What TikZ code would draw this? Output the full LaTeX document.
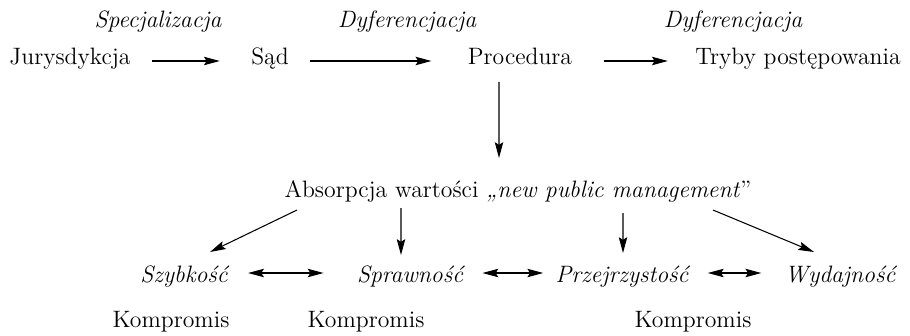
\documentclass[tikz,border=0pt]{standalone}
\usepackage{tikz}
\usetikzlibrary{arrows.meta}

\begin{document}
\begin{tikzpicture}
[
	              x = 0.02cm,
	              y = -0.02cm,
	           ->, >= {Stealth[length=9pt, width=4.8pt, inset=1.5pt]},
	     line width = 0.6pt,
	   term/.style = { inner sep=0pt, anchor=base, font=\fontsize{13.5}{16}\selectfont },
	  value/.style = { term, font=\fontsize{13.5}{16}\selectfont\itshape },
	  stage/.style = { value }
]
	\useasboundingbox (0,0) rectangle (910,335);

	% first row
	% nodes
	\node (jur) at (70,64)  [term]  {Jurysdykcja};
	\node (sad) at (270,64) [term]  {Sąd};
	\node (pro) at (520,64) [term]  {Procedura};
	\node (try) at (798,64) [term]  {Tryby postępowania};

	\node (spe) at (158,27) [stage] {Specjalizacja};
	\node (dy1) at (407,27) [stage] {Dyferencjacja};
	\node (dy2) at (733,27) [stage] {Dyferencjacja};

	% edges
	\draw [->, shorten <=0.42cm, shorten >=0.62cm] ([yshift=0.06cm]jur.base east) -- ([yshift=0.06cm]sad.base west);
	\draw [->, shorten <=0.42cm, shorten >=0.72cm] ([yshift=0.06cm]sad.base east) -- ([yshift=0.06cm]pro.base west);
	\draw [->, shorten <=0.62cm, shorten >=0.54cm] ([yshift=0.06cm]pro.base east) -- ([yshift=0.06cm]try.base west);

	% second row
	% nodes
	\node (abs) at (518,197) [term] {Absorpcja wartości \textit{„new public management}”};

	% edges
	\draw [->] ([xshift=-0.42cm, yshift=-0.36cm]pro.base) -- ([xshift=-0.38cm, yshift=0.78cm]abs.base);

	% third row
	% nodes
	\node (szy) at (184,282) [value] {Szybkość};
	\node (spr) at (410,282) [value] {Sprawność};
	\node (prz) at (622,282) [value] {Przejrzystość};
	\node (wyd) at (840,282) [value] {Wydajność};

	\node (k1) at (171,327) [term] {Kompromis};
	\node (k2) at (366,327) [term] {Kompromis};
	\node (k3) at (693,327) [term] {Kompromis};

	% edges
	\draw [->] ([xshift=-4.42cm, yshift=-0.26cm]abs.base) -- ([xshift=0.52cm, yshift=0.6cm]szy.base);
	\draw [->] ([xshift=-2.34cm, yshift=-0.22cm]abs.base) -- ([xshift=-0.18cm, yshift=0.54cm]spr.base);
	\draw [->] ([xshift=2.1cm, yshift=-0.32cm]abs.base)   -- ([xshift=0.02cm, yshift=0.58cm]prz.base);
	\draw [->] ([xshift=3.9cm, yshift=-0.26cm]abs.base)   -- ([xshift=-0.52cm, yshift=0.6cm]wyd.base);

	\draw [<->, shorten <=0.4cm, shorten >=0.66cm] ([yshift=0.18cm]szy.base east) -- ([yshift=0.18cm]spr.base west);
	\draw [<->, shorten <=0.38cm, shorten >=0.24cm] ([yshift=0.18cm]spr.base east) -- ([yshift=0.18cm]prz.base west);
	\draw [<->, shorten <=0.38cm, shorten >=0.46cm] ([yshift=0.18cm]prz.base east) -- ([yshift=0.18cm]wyd.base west);
\end{tikzpicture}
\end{document}
